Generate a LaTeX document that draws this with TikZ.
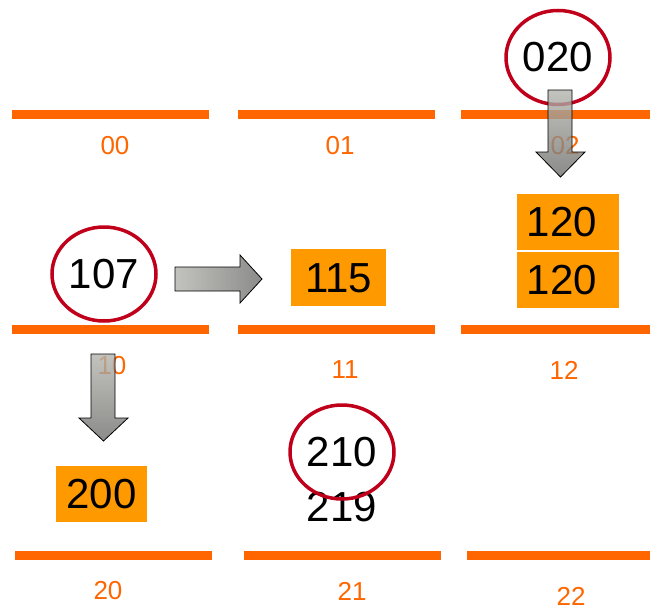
\documentclass[tikz,border=0pt]{standalone}
\usepackage{fontspec}
\setmainfont{Liberation Sans}
\usetikzlibrary{shapes.geometric}
\definecolor{barorange}{HTML}{FF6600}
\definecolor{boxorange}{HTML}{FF9900}
\definecolor{ringred}{HTML}{C0001A}
\definecolor{arrowlight}{HTML}{B4B4AE}
\definecolor{arrowdark}{HTML}{6E6E6C}
\begin{document}
\begin{tikzpicture}[x=1pt,y=-1pt,
  bar/.style={fill=barorange,draw=none},
  cell/.style={text=barorange,font=\fontsize{26}{29}\selectfont,inner sep=0pt},
  num/.style={text=black,font=\fontsize{42}{46}\selectfont,inner sep=0pt},
  obox/.style={fill=boxorange,draw=none,inner sep=0pt},
  ring/.style={ellipse,draw=ringred,line width=3.5pt,minimum width=104pt,minimum height=94pt,inner sep=0pt,font=\fontsize{42}{46}\selectfont},
  blockarrow/.style={draw=black,line width=0.8pt,fill opacity=0.8,line join=miter}
]
\useasboundingbox (0,0) rectangle (650,610);
% bars
\fill[bar] (12,110) rectangle (209,119);
\fill[bar] (238,110) rectangle (435,119);
\fill[bar] (461,110) rectangle (650,119);
\fill[bar] (12,325) rectangle (209,334);
\fill[bar] (238,325) rectangle (435,334);
\fill[bar] (461,325) rectangle (650,334);
\fill[bar] (15,551) rectangle (212,560);
\fill[bar] (244,551) rectangle (441,560);
\fill[bar] (467,551) rectangle (650,560);
% cell labels
\node[cell] (l00) at (115,146) {00};
\node[cell] (l01) at (340,146) {01};
\node[cell] (l02) at (565,146) {02};
\node[cell] (l10) at (112,366) {10};
\node[cell] (l11) at (345,370) {11};
\node[cell] (l12) at (564,370) {12};
\node[cell] (l20) at (108,591) {20};
\node[cell] (l21) at (352,591) {21};
\node[cell] (l22) at (571,596) {22};
% orange boxes
\fill[obox] (291,249) rectangle (386,306);
\node[num] (n115) at (338.5,278) {115};
\fill[obox] (517,194) rectangle (619,250);
\node[num] (n120a) at (562,222) {120};
\fill[obox] (517,252) rectangle (619,308);
\node[num] (n120b) at (562,280) {120};
\fill[obox] (56,466) rectangle (147,522);
\node[num] (n200) at (101.5,494) {200};
% plain number
\node[num] (n219) at (342,507) {219};
% rings
\node[ring] (r020) at (558,57.5) {020};
\node[ring] (r107) at (104,274) {107};
\node[ring] (r210) at (342,452) {210};
% block arrows
\path[blockarrow,left color=arrowlight,right color=arrowdark]
  (175,267) -- (240,267) -- (240,255) -- (262,279) -- (240,303) -- (240,291) -- (175,291) -- cycle;
\path[blockarrow,top color=arrowlight,bottom color=arrowdark]
  (548,90) -- (572,90) -- (572,152) -- (585,152) -- (560.5,177) -- (536,152) -- (548,152) -- cycle;
\path[blockarrow,top color=arrowlight,bottom color=arrowdark]
  (91,354) -- (115,354) -- (115,418) -- (128,418) -- (103.5,441) -- (79,418) -- (91,418) -- cycle;
\end{tikzpicture}
\end{document}
